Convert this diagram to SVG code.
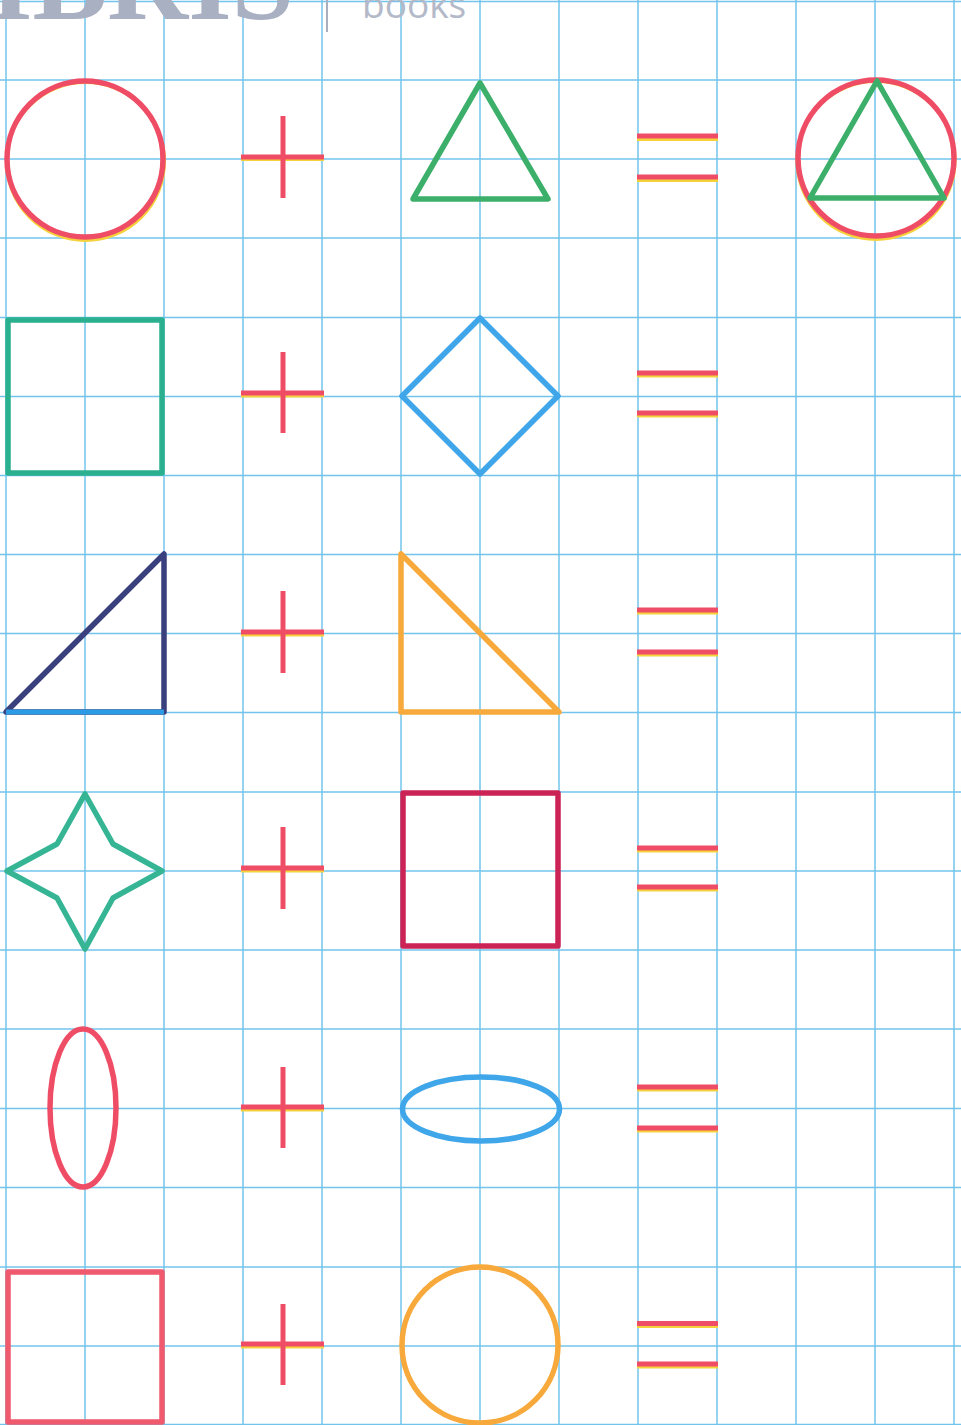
<svg xmlns="http://www.w3.org/2000/svg" width="961" height="1425" viewBox="0 0 961 1425">
<defs>
<style>
.grid line{stroke:#72c4ec;stroke-width:1.5}
.s{fill:none;stroke-width:5.5;stroke-linejoin:round;stroke-linecap:round}
.red{stroke:#ef4d66}
.y{stroke:#f5d23c;stroke-width:3;fill:none}
.op{stroke:#ef4d66;stroke-width:5;fill:none}
</style>
</defs>
<rect x="0" y="0" width="961" height="1425" fill="#ffffff"/>
<g id="grid" class="grid">
<line x1="6" y1="0" x2="6" y2="1425"/><line x1="85" y1="0" x2="85" y2="1425"/><line x1="164" y1="0" x2="164" y2="1425"/><line x1="243" y1="0" x2="243" y2="1425"/><line x1="322" y1="0" x2="322" y2="1425"/><line x1="401" y1="0" x2="401" y2="1425"/><line x1="480" y1="0" x2="480" y2="1425"/><line x1="559" y1="0" x2="559" y2="1425"/><line x1="638" y1="0" x2="638" y2="1425"/><line x1="717" y1="0" x2="717" y2="1425"/><line x1="796" y1="0" x2="796" y2="1425"/><line x1="875" y1="0" x2="875" y2="1425"/><line x1="954" y1="0" x2="954" y2="1425"/>
<line x1="0" y1="1.5" x2="961" y2="1.5"/><line x1="0" y1="80" x2="961" y2="80"/><line x1="0" y1="159" x2="961" y2="159"/><line x1="0" y1="238" x2="961" y2="238"/><line x1="0" y1="317.5" x2="961" y2="317.5"/><line x1="0" y1="396.5" x2="961" y2="396.5"/><line x1="0" y1="475.5" x2="961" y2="475.5"/><line x1="0" y1="554.5" x2="961" y2="554.5"/><line x1="0" y1="633.5" x2="961" y2="633.5"/><line x1="0" y1="712.5" x2="961" y2="712.5"/><line x1="0" y1="792" x2="961" y2="792"/><line x1="0" y1="871" x2="961" y2="871"/><line x1="0" y1="950" x2="961" y2="950"/><line x1="0" y1="1029" x2="961" y2="1029"/><line x1="0" y1="1108.5" x2="961" y2="1108.5"/><line x1="0" y1="1187.5" x2="961" y2="1187.5"/><line x1="0" y1="1267" x2="961" y2="1267"/><line x1="0" y1="1346" x2="961" y2="1346"/><line x1="0" y1="1424.5" x2="961" y2="1424.5"/>
</g>
<g id="logo">
<text x="294" y="19" text-anchor="end" font-family="Liberation Serif, serif" font-weight="bold" font-size="112" fill="#a9b0c1">LIBRIS</text>
<line x1="327" y1="0" x2="327" y2="32" stroke="#a9b0c1" stroke-width="2"/>
<text x="362" y="18" font-family="Open Sans, sans-serif" font-size="37" fill="#b3b9c8">books</text>
</g>
<g id="row1">
<g id="circle1"><circle cx="85" cy="160" r="79" class="y" transform="translate(0.5 1.5)"/><circle cx="85" cy="159" r="78" class="s red"/></g>
<g id="plus1"><line x1="241" y1="159.5" x2="324" y2="159.5" class="y"/><line x1="241" y1="157" x2="324" y2="157" class="op"/><line x1="283" y1="116" x2="283" y2="198" class="op"/></g>
<g id="triangle1"><polygon points="480,83 548,199 413,199" class="s" stroke="#3cb06a"/></g>
<g id="equals1"><line x1="637" y1="139.5" x2="718" y2="139.5" class="y"/><line x1="637" y1="136" x2="718" y2="136" class="op"/><line x1="637" y1="180.5" x2="718" y2="180.5" class="y"/><line x1="637" y1="177" x2="718" y2="177" class="op"/></g>
<g id="result1"><circle cx="876" cy="159" r="79" class="y" transform="translate(0 1.5)"/><circle cx="876" cy="158" r="78" class="s red"/><polygon points="877,81 944,198 810,198" class="s" stroke="#3cb06a"/></g>
</g>
<g id="row2">
<g id="square1"><rect x="8" y="320" width="154" height="153" class="s" stroke="#2bb08f"/></g>
<g id="plus2"><line x1="241" y1="396" x2="324" y2="396" class="y"/><line x1="241" y1="393" x2="324" y2="393" class="op"/><line x1="283" y1="352" x2="283" y2="433" class="op"/></g>
<g id="diamond"><polygon points="480,318 558,396 480,474 402,396" class="s" stroke="#3fa6ea"/></g>
<g id="equals2"><line x1="637" y1="376" x2="718" y2="376" class="y"/><line x1="637" y1="373" x2="718" y2="373" class="op"/><line x1="637" y1="416" x2="718" y2="416" class="y"/><line x1="637" y1="413" x2="718" y2="413" class="op"/></g>
</g>
<g id="row3">
<g id="righttriangle1"><polygon points="6,712 164,554 164,712" class="s" stroke="#3a3f7e"/><line x1="6" y1="712" x2="164" y2="712" stroke="#2c9be6" stroke-width="5"/></g>
<g id="plus3"><line x1="241" y1="635" x2="324" y2="635" class="y"/><line x1="241" y1="632" x2="324" y2="632" class="op"/><line x1="283" y1="591" x2="283" y2="673" class="op"/></g>
<g id="righttriangle2"><polygon points="401,554 401,712 559,712" class="s" stroke="#f7a93c"/></g>
<g id="equals3"><line x1="637" y1="613" x2="718" y2="613" class="y"/><line x1="637" y1="610" x2="718" y2="610" class="op"/><line x1="637" y1="655" x2="718" y2="655" class="y"/><line x1="637" y1="652" x2="718" y2="652" class="op"/></g>
</g>
<g id="row4">
<g id="star"><polygon points="85,794 113,844 162,871 113,898 85,949 57,898 7,871 57,844" class="s" stroke="#36b594"/></g>
<g id="plus4"><line x1="241" y1="871" x2="324" y2="871" class="y"/><line x1="241" y1="868" x2="324" y2="868" class="op"/><line x1="283" y1="827" x2="283" y2="909" class="op"/></g>
<g id="square2"><rect x="403" y="793" width="155" height="153" class="s" stroke="#cc2356"/></g>
<g id="equals4"><line x1="637" y1="851" x2="718" y2="851" class="y"/><line x1="637" y1="848" x2="718" y2="848" class="op" stroke="#e23a6a"/><line x1="637" y1="890" x2="718" y2="890" class="y"/><line x1="637" y1="887" x2="718" y2="887" class="op"/></g>
</g>
<g id="row5">
<g id="ellipse1"><ellipse cx="83" cy="1108" rx="33" ry="79" class="s red"/></g>
<g id="plus5"><line x1="241" y1="1110" x2="324" y2="1110" class="y"/><line x1="241" y1="1107" x2="324" y2="1107" class="op"/><line x1="283" y1="1067" x2="283" y2="1148" class="op"/></g>
<g id="ellipse2"><ellipse cx="481" cy="1109" rx="78.5" ry="32" class="s" stroke="#3fa6ea"/></g>
<g id="equals5"><line x1="637" y1="1090" x2="718" y2="1090" class="y"/><line x1="637" y1="1087" x2="718" y2="1087" class="op"/><line x1="637" y1="1131" x2="718" y2="1131" class="y"/><line x1="637" y1="1128" x2="718" y2="1128" class="op"/></g>
</g>
<g id="row6">
<g id="square3"><rect x="8" y="1272" width="154" height="150" class="s" stroke="#f05a6e"/></g>
<g id="plus6"><line x1="241" y1="1347" x2="324" y2="1347" class="y"/><line x1="241" y1="1344" x2="324" y2="1344" class="op"/><line x1="283" y1="1304" x2="283" y2="1385" class="op"/></g>
<g id="circle2"><circle cx="480" cy="1345" r="78" class="s" stroke="#f7a93c"/></g>
<g id="equals6"><line x1="637" y1="1326.5" x2="718" y2="1326.5" class="y"/><line x1="637" y1="1323.5" x2="718" y2="1323.5" class="op"/><line x1="637" y1="1367" x2="718" y2="1367" class="y"/><line x1="637" y1="1364" x2="718" y2="1364" class="op"/></g>
</g>
</svg>
